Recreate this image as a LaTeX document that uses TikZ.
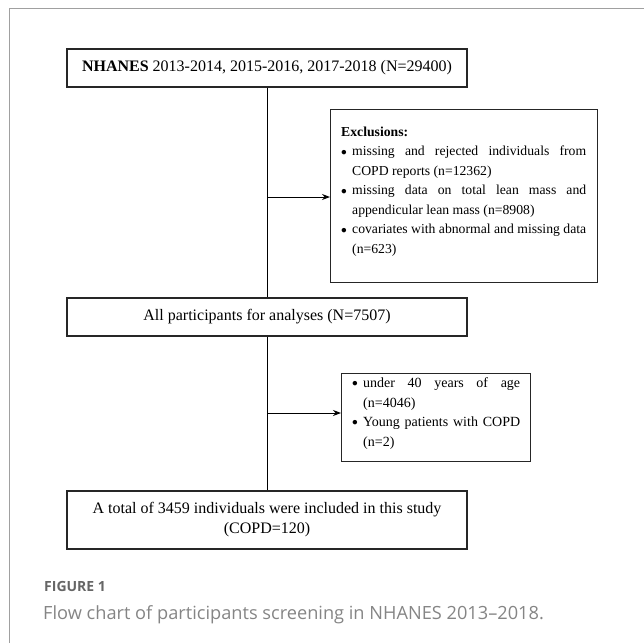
\documentclass[tikz,border=0pt]{standalone}
\usepackage{fontspec}
\setmainfont{Liberation Serif}
\newfontfamily\capfont{Open Sans}
\usetikzlibrary{arrows.meta}
\definecolor{framegray}{HTML}{A0A0A0}
\definecolor{boxline}{HTML}{262626}
\definecolor{figgray}{HTML}{666666}
\definecolor{capgray}{HTML}{858585}
\newcommand{\exbl}[2]{\makebox[#1][l]{\raisebox{0.1ex}{\scalebox{0.8}{$\bullet$}}}}
\newcommand{\jline}[2]{\makebox[#1][s]{#2}}
\tikzset{
  mainbox/.style={draw=boxline, line width=1.2pt, minimum width=400pt, inner sep=0pt, align=center, font=\fontsize{16}{20}\selectfont},
  sidebox/.style={draw=boxline, line width=1.2pt, inner sep=0pt, anchor=north west},
  conn/.style={line width=1pt, black},
  arr/.style={conn, -{Stealth[length=8pt,width=6pt]}}
}
\begin{document}
\begin{tikzpicture}[x=1pt,y=-1pt]
\useasboundingbox (0,0) rectangle (644,643);
% frame
\draw[framegray, line width=1pt] (9,643) -- (9,8) -- (644,8);
% main boxes
\node[mainbox, minimum height=38pt] (b1) at (267,68) {\textbf{NHANES} 2013-2014, 2015-2016, 2017-2018 (N=29400)};
\node[mainbox, minimum height=38pt] (b2) at (267,317) {All participants for analyses (N=7507)};
\node[mainbox, minimum height=58pt] (b3) at (267,520) {A total of 3459 individuals were included in this study\\(COPD=120)};
% exclusion box
\node[sidebox, minimum width=267pt, minimum height=173pt] (ex) at (330,109) {};
\node[anchor=north west, inner sep=0pt, align=left, font=\fontsize{13.7}{19.5}\selectfont] (extxt) at (341,126.5) {%
\textbf{Exclusions:}\\
\exbl{11pt}{}\jline{234pt}{missing and rejected individuals from}\\
\hspace*{11pt}COPD reports (n=12362)\\
\exbl{11pt}{}\jline{234pt}{missing data on total lean mass and}\\
\hspace*{11pt}appendicular lean mass (n=8908)\\
\exbl{11pt}{}\jline{234pt}{covariates with abnormal and missing data}\\
\hspace*{11pt}(n=623)};
% small box
\node[sidebox, minimum width=189pt, minimum height=88pt] (sm) at (341,373) {};
\node[anchor=north west, inner sep=0pt, align=left, font=\fontsize{14}{19.5}\selectfont] (smtxt) at (352,377.5) {%
\exbl{11pt}{}\jline{157pt}{under 40 years of age}\\
\hspace*{11pt}(n=4046)\\
\exbl{11pt}{}\jline{157pt}{Young patients with COPD}\\
\hspace*{11pt}(n=2)};
% connectors
\draw[conn] (b1.south) -- (b2.north);
\draw[conn] (b2.south) -- (b3.north);
\coordinate (j1) at (267,197);
\coordinate (j2) at (267,413);
\draw[arr] (j1) -- (ex.west |- j1);
\draw[arr] (j2) -- (sm.west |- j2);
% caption
\node[anchor=base west, inner sep=0pt, text=figgray, font=\capfont\bfseries\fontsize{14}{16}\selectfont] (fig) at (44,591) {FIGURE 1};
\node[anchor=base west, inner sep=0pt, text=capgray, font=\capfont\fontsize{18.2}{20}\selectfont] (cap) at (43,619) {Flow chart of participants screening in NHANES 2013–2018.};
\end{tikzpicture}
\end{document}
